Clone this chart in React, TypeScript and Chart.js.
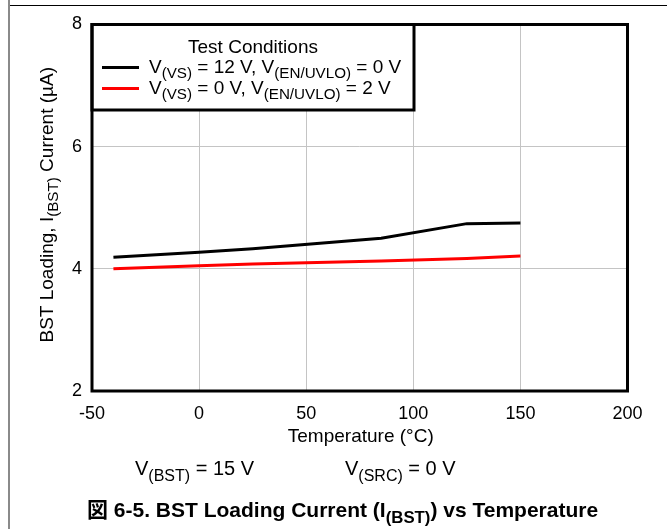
import React, { useEffect, useRef } from "react";
import { Chart, registerables } from "chart.js";

Chart.register(...registerables);

const temps = [-40, 0, 25, 85, 125, 150];
const seriesVS12 = [4.19, 4.27, 4.33, 4.5, 4.74, 4.75];
const seriesVS0 = [4.0, 4.05, 4.08, 4.13, 4.17, 4.21];
const seriesLabels = ["V(VS) = 12 V, V(EN/UVLO) = 0 V", "V(VS) = 0 V, V(EN/UVLO) = 2 V"];
const xTicks = [-50, 0, 50, 100, 150, 200];
const yTicks = [2, 4, 6, 8];

const FONT = "'Liberation Sans', Arial, 'Noto Sans CJK JP', sans-serif";

type Part = [string, boolean];

function richWidth(ctx: CanvasRenderingContext2D, parts: Part[], size: number, bold: boolean) {
  let w = 0;
  for (const [t, sub] of parts) {
    ctx.font = `${bold ? "bold " : ""}${sub ? size * 0.8 : size}px ${FONT}`;
    w += ctx.measureText(t).width;
  }
  return w;
}

function drawRich(
  ctx: CanvasRenderingContext2D,
  parts: Part[],
  x: number,
  y: number,
  size: number,
  bold = false,
  align: "left" | "center" = "left"
) {
  ctx.save();
  ctx.fillStyle = "#000";
  ctx.textBaseline = "alphabetic";
  ctx.textAlign = "left";
  const w = richWidth(ctx, parts, size, bold);
  let cx = align === "center" ? x - w / 2 : x;
  for (const [t, sub] of parts) {
    ctx.font = `${bold ? "bold " : ""}${sub ? size * 0.8 : size}px ${FONT}`;
    ctx.fillText(t, cx, sub ? y + size * 0.28 : y);
    cx += ctx.measureText(t).width;
  }
  ctx.restore();
}

const decorPlugin = {
  id: "decor",
  afterDatasetsDraw(chart: any) {
    const ctx: CanvasRenderingContext2D = chart.ctx;
    const ca = chart.chartArea;
    ctx.save();
    // legend box
    const lx0 = ca.left, ly0 = ca.top, lx1 = 414, ly1 = 110;
    ctx.fillStyle = "#fff";
    ctx.fillRect(lx0, ly0, lx1 - lx0, ly1 - ly0);
    ctx.strokeStyle = "#000";
    ctx.lineWidth = 3;
    ctx.strokeRect(lx0, ly0, lx1 - lx0, ly1 - ly0);
    drawRich(ctx, [["Test Conditions", false]], 253, 53, 19, false, "center");
    const rows: { color: string; parts: Part[]; y: number }[] = [
      { color: "#000000", parts: [["V", false], ["(VS)", true], [" = 12 V, V", false], ["(EN/UVLO)", true], [" = 0 V", false]], y: 73 },
      { color: "#ff0000", parts: [["V", false], ["(VS)", true], [" = 0 V, V", false], ["(EN/UVLO)", true], [" = 2 V", false]], y: 94 },
    ];
    for (const r of rows) {
      ctx.strokeStyle = r.color;
      ctx.lineWidth = 3;
      ctx.beginPath();
      ctx.moveTo(102, r.y - 5.5);
      ctx.lineTo(139, r.y - 5.5);
      ctx.stroke();
      drawRich(ctx, r.parts, 149, r.y, 19);
    }
    // plot frame
    ctx.strokeStyle = "#000";
    ctx.lineWidth = 3;
    ctx.strokeRect(ca.left, ca.top, ca.right - ca.left, ca.bottom - ca.top);
    ctx.restore();
  },
  afterDraw(chart: any) {
    const ctx: CanvasRenderingContext2D = chart.ctx;
    const ca = chart.chartArea;
    ctx.save();
    // outer page lines
    ctx.strokeStyle = "#000";
    ctx.lineWidth = 1.2;
    ctx.beginPath();
    ctx.moveTo(9, 5.5);
    ctx.lineTo(667, 5.5);
    ctx.stroke();
    ctx.strokeStyle = "#8a8a8a";
    ctx.lineWidth = 2;
    ctx.beginPath();
    ctx.moveTo(9, 0);
    ctx.lineTo(9, 529);
    ctx.stroke();
    // x title
    drawRich(ctx, [["Temperature (°C)", false]], (ca.left + ca.right) / 2 + 1, 442, 19, false, "center");
    // y title
    ctx.save();
    ctx.translate(53, (ca.top + ca.bottom) / 2 - 3);
    ctx.rotate(-Math.PI / 2);
    drawRich(ctx, [["BST Loading, I", false], ["(BST)", true], [" Current (µA)", false]], 0, 0, 19, false, "center");
    ctx.restore();
    // notes
    drawRich(ctx, [["V", false], ["(BST)", true], [" = 15 V", false]], 135, 475, 20);
    drawRich(ctx, [["V", false], ["(SRC)", true], [" = 0 V", false]], 345, 475, 20);
    // caption
    drawRich(
      ctx,
      [["図 6-5. BST Loading Current (I", false], ["(BST)", true], [") vs Temperature", false]],
      87,
      517,
      21,
      true
    );
    ctx.restore();
  },
};

export default function App() {
  const ref = useRef<HTMLCanvasElement | null>(null);
  useEffect(() => {
    if (!ref.current) return;
    const chart = new Chart(ref.current, {
      type: "line",
      data: {
        datasets: [
          {
            label: seriesLabels[0],
            data: temps.map((t, i) => ({ x: t, y: seriesVS12[i] })),
            borderColor: "#000000",
            backgroundColor: "#000000",
            borderWidth: 3,
            pointRadius: 0,
            tension: 0,
          },
          {
            label: seriesLabels[1],
            data: temps.map((t, i) => ({ x: t, y: seriesVS0[i] })),
            borderColor: "#ff0000",
            backgroundColor: "#ff0000",
            borderWidth: 3,
            pointRadius: 0,
            tension: 0,
          },
        ],
      },
      options: {
        animation: false,
        responsive: false,
        devicePixelRatio: 1,
        layout: { padding: { left: 0, top: 24.5, right: 39.5, bottom: 0 } },
        plugins: { legend: { display: false }, tooltip: { enabled: false }, title: { display: false } },
        scales: {
          x: {
            type: "linear",
            min: -50,
            max: 200,
            afterBuildTicks: (s: any) => {
              s.ticks = xTicks.map((v) => ({ value: v }));
            },
            ticks: { font: { family: FONT, size: 18 }, color: "#000", padding: 12, maxRotation: 0 },
            grid: { color: "#c4c4c4", lineWidth: 1, drawTicks: false },
            border: { display: false },
            afterFit: (s: any) => {
              s.height = 138;
            },
          },
          y: {
            type: "linear",
            min: 2,
            max: 8,
            afterBuildTicks: (s: any) => {
              s.ticks = yTicks.map((v) => ({ value: v }));
            },
            ticks: { font: { family: FONT, size: 18 }, color: "#000", padding: 10 },
            grid: { color: "#c4c4c4", lineWidth: 1, drawTicks: false },
            border: { display: false },
            afterFit: (s: any) => {
              s.width = 92;
            },
          },
        },
      },
      plugins: [decorPlugin],
    });
    return () => chart.destroy();
  }, []);
  return (
    <div style={{ position: "fixed", left: 0, top: 0, width: 667, height: 529, background: "#fff" }}>
      <canvas ref={ref} width={667} height={529} style={{ display: "block", width: 667, height: 529 }} />
    </div>
  );
}
